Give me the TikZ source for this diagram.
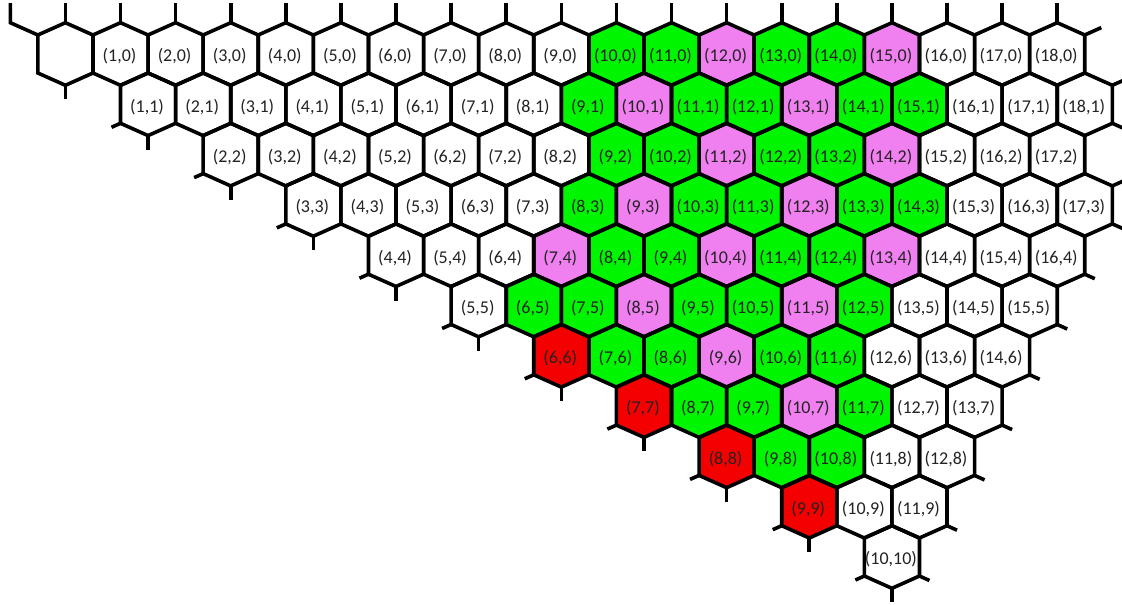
\documentclass[tikz,border=0pt]{standalone}
\usepackage{fontspec}
\setmainfont{Carlito}
\definecolor{hgreen}{RGB}{0,245,0}
\definecolor{hpink}{RGB}{240,128,240}
\definecolor{hred}{RGB}{245,0,0}
\definecolor{lbltext}{RGB}{35,35,35}
\newcommand\hexcell[3]{%
  \pgfmathsetmacro\hx{65.4+55.1*#1+27.55*#2}%
  \pgfmathsetmacro\hy{54+50.3*#2}%
  \path[#3] (\hx,\hy) +(0,-31.3) -- +(27.55,-19) -- +(27.55,19) -- +(0,31.3) -- +(-27.55,19) -- +(-27.55,-19) -- cycle;}
\begin{document}
\begin{tikzpicture}[x=1pt,y=-1pt,
  hexline/.style={draw=black,line width=3.6pt,line join=miter},
  stub/.style={draw=black,line width=3.6pt},
  lbl/.style={font=\fontsize{18}{20}\selectfont,text=lbltext,inner sep=0pt}]
\useasboundingbox[fill=white] (0,0) rectangle (1122,605);
% coloured fills
\foreach \i/\j in {10/0,11/0,13/0,14/0,9/1,11/1,12/1,14/1,15/1,9/2,10/2,12/2,13/2,
  8/3,10/3,11/3,13/3,14/3,8/4,9/4,11/4,12/4,6/5,7/5,9/5,10/5,12/5,
  7/6,8/6,10/6,11/6,8/7,9/7,11/7,9/8,10/8}{\hexcell{\i}{\j}{fill=hgreen}}
\foreach \i/\j in {12/0,15/0,10/1,13/1,11/2,14/2,9/3,12/3,7/4,10/4,13/4,8/5,11/5,9/6,10/7}
  {\hexcell{\i}{\j}{fill=hpink}}
\foreach \i/\j in {6/6,7/7,8/8,9/9}{\hexcell{\i}{\j}{fill=hred}}
% outlines
\foreach \j/\imax in {0/18,1/18,2/17,3/17,4/16,5/15,6/14,7/13,8/12,9/11,10/10}{
  \foreach \i in {\j,...,\imax}{\hexcell{\i}{\j}{hexline}}}
% labels
\foreach \j/\imax in {0/18,1/18,2/17,3/17,4/16,5/15,6/14,7/13,8/12,9/11,10/10}{
  \pgfmathtruncatemacro\istart{max(\j,1)}
  \foreach \i in {\istart,...,\imax}{
    \pgfmathsetmacro\hx{65.4+55.1*\i+27.55*\j}
    \pgfmathsetmacro\hy{54+50.3*\j}
    \node[lbl] (c\i-\j) at (\hx-1,\hy+2.5) {(\i,\j)};}}
% top stubs
\foreach \i in {0,...,18}{
  \pgfmathsetmacro\hx{65.4+55.1*\i}
  \draw[stub] (\hx,22.7) -- (\hx,3);}
\draw[stub,line join=miter] (37.85,35) -- (10.3,22.7) -- (10.3,3);
% left diagonal stubs
\foreach \j in {0,...,10}{
  \pgfmathsetmacro\hx{65.4+82.65*\j}
  \pgfmathsetmacro\hy{54+50.3*\j}
  \draw[stub] (\hx,\hy+31.3) -- (\hx,\hy+45.3);
  \ifnum\j>0 \draw[stub] (\hx-27.55,\hy+19) -- +(-9,4); \fi}
% right end stubs
\foreach \i/\j in {16/4,15/5,14/6,13/7,12/8,11/9,10/10}{
  \pgfmathsetmacro\hx{65.4+55.1*\i+27.55*\j}
  \pgfmathsetmacro\hy{54+50.3*\j}
  \draw[stub] (\hx+27.55,\hy+19) -- +(10,4.5);}
\pgfmathsetmacro\hx{65.4+55.1*18}
\draw[stub] (\hx+27.55,35) -- +(16.5,-7.4);
\foreach \i/\j in {18/1,17/3}{
  \pgfmathsetmacro\hx{65.4+55.1*\i+27.55*\j}
  \pgfmathsetmacro\hy{54+50.3*\j}
  \draw[stub] (\hx+27.55,\hy-19) -- +(11,-4.9);
  \draw[stub] (\hx+27.55,\hy+19) -- +(11,4.9);}
\end{tikzpicture}
\end{document}
